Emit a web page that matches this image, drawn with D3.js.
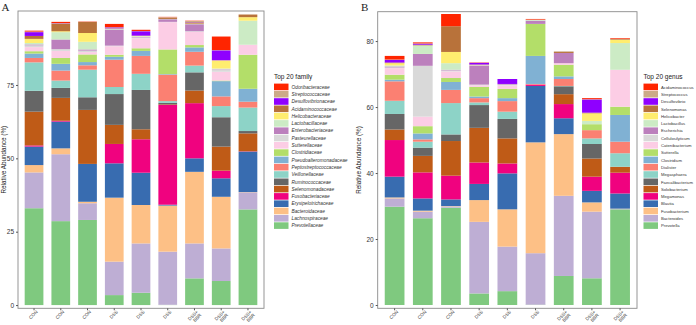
<!DOCTYPE html>
<html>
<head>
<meta charset="utf-8">
<script src="https://cdn.jsdelivr.net/npm/d3@7"></script>
<style>
  html, body { margin: 0; padding: 0; background: #fff; }
  svg { display: block; }
</style>
</head>
<body>
<div id="chart"></div>
<script>
/* ── data ─────────────────────────────────────────────────────── */
const samples = ['CON', 'CON', 'CON', 'DSS', 'DSS', 'DSS', 'DSS+|BBR', 'DSS+|BBR', 'DSS+|BBR'];

/* taxa listed bottom of stack -> top of stack */
const families = ['Prevotellaceae', 'Lachnospiraceae', 'Bacteroidaceae', 'Erysipelotrichaceae',
  'Fusobacteriaceae', 'Selenomonadaceae', 'Ruminococcaceae', 'Veillonellaceae',
  'Peptostreptococcaceae', 'Pseudoalteromonadaceae', 'Clostridiaceae', 'Sutterellaceae',
  'Pasteurellaceae', 'Enterobacteriaceae', 'Lactobacillaceae', 'Helicobacteraceae',
  'Acidaminococcaceae', 'Desulfovibrionaceae', 'Streptococcaceae', 'Odoribacteraceae'];

const genera = ['Prevotella', 'Bacteroides', 'Fusobacterium', 'Blautia', 'Megamonas',
  'Solobacterium', 'Faecalibacterium', 'Megasphaera', 'Dialister', 'Clostridium',
  'Sutterella', 'Catenibacterium', 'Cellulosilyticum', 'Escherichia', 'Lactobacillus',
  'Helicobacter', 'Selenomonas', 'Desulfovibrio', 'Streptococcus', 'Acidaminococcus'];

const taxonColors = ['#7FC97F', '#BEAED4', '#FDC086', '#386CB0', '#F0027F', '#BF5B17',
  '#666666', '#8DD3C7', '#FB8072', '#80B1D3', '#B3DE69', '#FCCDE5', '#D9D9D9', '#BC80BD',
  '#CCEBC5', '#FFED6F', '#B8723A', '#8F00FF', '#CCAA88', '#FF2500'];

/* one row per sample, values in % in the taxa order above */
const familyValues = [
  [33.0, 12.2, 2.5, 6.3, 0.4, 11.5, 7.1, 9.7, 1.5, 1.5, 0.8, 1.4, 0.6, 0.3, 0.5, 1.4, 1.0, 1.3, 0.2, 0.3],
  [28.6, 22.8, 2.0, 9.1, 0.3, 7.8, 3.4, 2.5, 3.4, 2.3, 2.0, 2.4, 0.6, 3.3, 2.5, 0.3, 2.6, 0.1, 0.1, 0.4],
  [29.0, 5.7, 0.5, 12.9, 0.0, 18.4, 4.3, 9.4, 1.5, 1.1, 2.6, 0.8, 0.5, 0.4, 2.6, 3.0, 3.8, 0.0, 0.0, 0.1],
  [3.4, 11.4, 21.8, 11.7, 6.6, 6.5, 10.5, 2.4, 9.3, 1.0, 0.7, 2.9, 0.2, 5.5, 0.2, 0.1, 0.1, 0.3, 0.1, 1.1],
  [4.2, 16.8, 13.1, 11.0, 11.4, 3.4, 13.4, 5.5, 6.1, 1.7, 0.9, 3.4, 0.3, 0.2, 0.2, 0.1, 0.1, 1.5, 0.1, 0.4],
  [0.1, 18.1, 15.7, 0.3, 34.0, 0.2, 0.5, 0.6, 9.0, 0.2, 8.4, 9.3, 0.1, 0.9, 0.1, 0.0, 0.4, 0.0, 0.2, 0.1],
  [9.1, 11.9, 24.4, 4.6, 18.8, 4.3, 6.2, 2.3, 4.7, 1.5, 0.8, 4.5, 0.2, 2.4, 0.1, 0.1, 0.4, 0.1, 0.4, 0.1],
  [8.2, 11.1, 17.6, 6.3, 2.6, 8.2, 10.0, 3.8, 3.3, 5.2, 0.2, 3.0, 0.8, 0.1, 0.2, 2.8, 0.0, 3.4, 0.1, 4.6],
  [32.6, 5.8, 0.1, 13.8, 0.1, 6.1, 0.8, 8.0, 2.0, 4.4, 11.6, 3.4, 0.0, 0.0, 8.2, 1.2, 0.9, 0.0, 0.0, 0.0]
];

const genusValues = [
  [29.8, 2.5, 0.3, 6.3, 11.1, 3.2, 4.7, 4.0, 5.9, 0.5, 1.5, 2.0, 0.2, 0.3, 0.3, 0.7, 0.2, 0.8, 0.1, 1.1],
  [26.3, 2.0, 0.3, 3.7, 7.9, 5.0, 2.5, 1.8, 0.7, 1.8, 2.2, 2.9, 15.4, 3.6, 2.6, 0.0, 0.2, 0.3, 0.1, 0.3],
  [29.5, 0.4, 0.1, 2.0, 7.2, 10.5, 2.0, 9.5, 4.0, 2.4, 1.2, 2.0, 0.3, 0.2, 2.0, 3.4, 7.8, 0.0, 0.0, 3.7],
  [3.5, 21.7, 6.6, 4.9, 6.5, 10.5, 6.9, 0.8, 1.3, 0.5, 2.9, 0.5, 0.2, 5.8, 0.1, 0.1, 0.1, 0.5, 0.0, 0.1],
  [4.2, 13.5, 11.3, 10.9, 3.0, 7.6, 5.9, 2.2, 3.2, 0.9, 2.8, 1.0, 0.3, 0.2, 0.0, 0.0, 0.0, 1.5, 0.0, 0.0],
  [0.1, 15.6, 33.6, 17.1, 0.4, 0.0, 0.0, 0.0, 0.2, 8.5, 9.7, 0.0, 0.0, 1.0, 0.3, 0.0, 0.0, 0.0, 0.0, 0.2],
  [8.8, 24.3, 18.7, 4.8, 4.3, 3.0, 2.4, 0.1, 2.1, 0.8, 3.5, 0.5, 0.0, 3.1, 0.0, 0.0, 0.3, 0.0, 0.2, 0.0],
  [8.1, 20.2, 2.8, 3.5, 4.3, 5.5, 4.4, 1.7, 2.5, 0.0, 1.8, 0.0, 0.0, 0.0, 1.0, 2.3, 0.2, 4.0, 0.1, 0.3],
  [29.0, 0.1, 0.1, 4.6, 6.3, 1.8, 0.0, 4.1, 3.5, 8.1, 2.5, 11.2, 0.0, 0.0, 8.1, 1.0, 0.2, 0.0, 0.1, 0.2]
];

const familyTicks = [0, 25, 50, 75];
const genusTicks = [0, 20, 40, 60, 80];

/* ── chart ────────────────────────────────────────────────────── */
const W = 696, H = 325;
const SANS = 'Liberation Sans, Arial, sans-serif';

const svg = d3.select('#chart').append('svg')
  .attr('width', W).attr('height', H).attr('viewBox', `0 0 ${W} ${H}`);

function drawPanel(o) {
  const x = d3.scaleBand().domain(d3.range(samples.length))
    .range([o.left, o.right]).paddingInner(0.3).paddingOuter(0.25);
  const y = d3.scaleLinear().domain(o.yDomain).range([o.bottom, o.top]);

  const g = svg.append('g');

  /* stacked bars */
  const rows = o.values.map((vals, i) => {
    const r = { idx: i };
    o.taxa.forEach((t, j) => { r[t] = vals[j]; });
    return r;
  });
  const series = d3.stack().keys(o.taxa)(rows);

  g.selectAll('.layer').data(series).join('g')
    .attr('fill', (d, i) => taxonColors[i])
    .selectAll('rect').data(d => d).join('rect')
    .attr('x', d => x(d.data.idx))
    .attr('width', x.bandwidth())
    .attr('y', d => y(d[1]))
    .attr('height', d => Math.max(0, y(d[0]) - y(d[1])));

  /* panel border */
  g.append('rect')
    .attr('x', o.left).attr('y', o.top)
    .attr('width', o.right - o.left).attr('height', o.bottom - o.top)
    .attr('fill', 'none').attr('stroke', '#8a8a8a').attr('stroke-width', 0.9);

  /* y axis */
  const ya = g.append('g').attr('transform', `translate(${o.left},0)`)
    .call(d3.axisLeft(y).tickValues(o.ticks).tickSize(2).tickPadding(2));
  ya.select('.domain').remove();
  ya.selectAll('line').attr('stroke', '#555');
  ya.selectAll('text').attr('font-family', SANS).attr('font-size', 6.5).attr('fill', '#333');

  /* x axis, rotated two-line labels */
  const xa = g.append('g').attr('transform', `translate(0,${o.bottom})`)
    .call(d3.axisBottom(x).tickSize(2).tickFormat(''));
  xa.select('.domain').remove();
  xa.selectAll('line').attr('stroke', '#555');
  xa.selectAll('.tick').each(function(i) {
    const lines = samples[i].split('|');
    const t = d3.select(this).append('text')
      .attr('transform', 'translate(1.5,1.5) rotate(-45)')
      .attr('text-anchor', 'end')
      .attr('font-family', SANS).attr('font-size', 4.6).attr('fill', '#333');
    lines.forEach((s, k) => {
      t.append('tspan').attr('x', 0).attr('dy', k === 0 ? '0.75em' : '1.0em').text(s);
    });
  });

  /* y title */
  g.append('text')
    .attr('transform', `translate(${o.titleX},${(o.top + o.bottom) / 2}) rotate(-90)`)
    .attr('text-anchor', 'middle')
    .attr('font-family', SANS).attr('font-size', 6.3).attr('fill', '#222')
    .text('Relative Abundance (%)');

  /* panel letter */
  g.append('text').attr('x', o.letterX).attr('y', 10.5)
    .attr('font-family', 'Liberation Serif, Times New Roman, serif')
    .attr('font-size', 11).attr('fill', '#222').text(o.letter);

  /* legend (top entry = last taxon) */
  const leg = g.append('g').attr('transform', `translate(${o.legX},0)`);
  leg.append('text').attr('x', 0).attr('y', 79)
    .attr('font-family', SANS).attr('font-size', 6.5).attr('fill', '#222')
    .text(o.legTitle);
  const order = o.taxa.map((t, i) => i).reverse();
  order.forEach((ti, k) => {
    const ky = 83.6 + k * 7.3;
    leg.append('rect').attr('x', 0).attr('y', ky)
      .attr('width', 14.5).attr('height', 6.6).attr('fill', taxonColors[ti]);
    leg.append('text').attr('x', 17.5).attr('y', ky + 5)
      .attr('font-family', SANS).attr('font-size', o.legFont)
      .attr('font-style', o.italic ? 'italic' : 'normal')
      .attr('fill', '#333').text(o.taxa[ti]);
  });
}

drawPanel({
  letter: 'A', letterX: 1.5, titleX: 5.5,
  left: 18, right: 264, top: 11, bottom: 308.3,
  yDomain: [-1.1, 100.2], ticks: familyTicks,
  taxa: families, values: familyValues,
  legX: 274, legTitle: 'Top 20 family', italic: true, legFont: 4.8
});

drawPanel({
  letter: 'B', letterX: 361, titleX: 361,
  left: 377.7, right: 637, top: 11.7, bottom: 308.3,
  yDomain: [-1.0, 88.9], ticks: genusTicks,
  taxa: genera, values: genusValues,
  legX: 643.5, legTitle: 'Top 20 genus', italic: false, legFont: 4.2
});
</script>
</body>
</html>
